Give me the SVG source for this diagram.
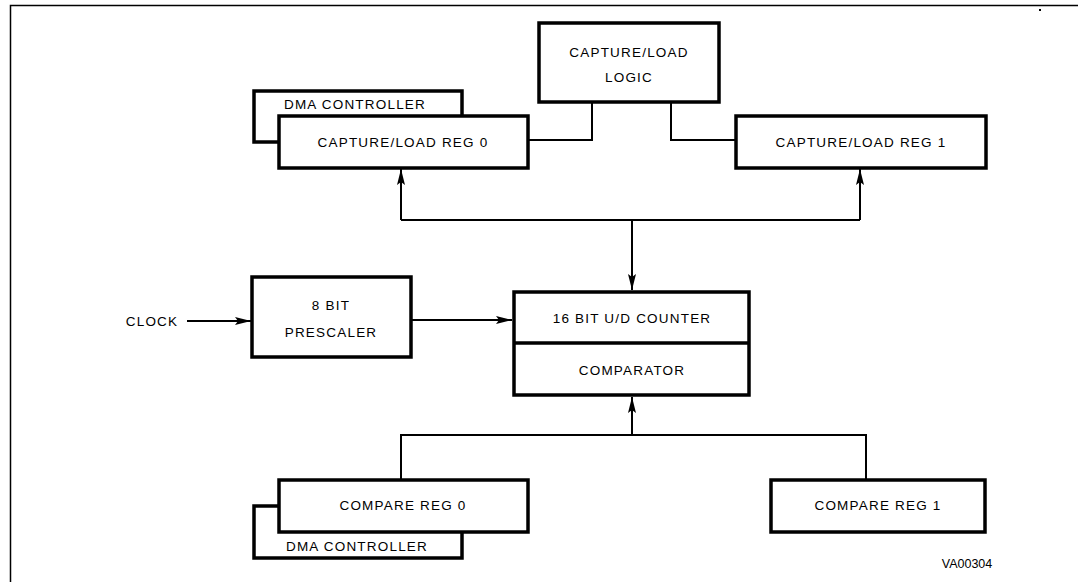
<svg xmlns="http://www.w3.org/2000/svg" width="1078" height="582" viewBox="0 0 1078 582">
<style>
.box{fill:#fff;stroke:#000;stroke-width:3.5}
.ln{fill:none;stroke:#000;stroke-width:2}
.frame{fill:none;stroke:#000;stroke-width:1.5}
text{font-family:"Liberation Sans",Arial,sans-serif;font-size:13.5px;letter-spacing:1.2px;fill:#000;text-anchor:middle;dominant-baseline:central}
.sm{font-size:12.5px}
</style>
<defs>
<marker id="ah" viewBox="0 0 16 8" refX="16" refY="4" markerWidth="16" markerHeight="8" markerUnits="userSpaceOnUse" orient="auto">
<path d="M0,0 L16,4 L0,8 L3,4 Z" fill="#000"/>
</marker>
</defs>
<rect width="1078" height="582" fill="#fff"/>
<path class="frame" d="M10.5,582 L10.5,5.5 L1078,5.5"/>
<rect x="1039" y="9" width="2" height="2" fill="#000"/>
<g id="connectors">
<path class="ln" d="M592,102 L592,140 L528,140"/>
<path class="ln" d="M671,102 L671,140 L737,140"/>
<path class="ln" d="M401,220 L860,220"/>
<path class="ln" d="M401,220 L401,169" marker-end="url(#ah)"/>
<path class="ln" d="M860,220 L860,169" marker-end="url(#ah)"/>
<path class="ln" d="M632,220 L632,290" marker-end="url(#ah)"/>
<path class="ln" d="M187,321 L251,321" marker-end="url(#ah)"/>
<path class="ln" d="M411,320 L512,320" marker-end="url(#ah)"/>
<path class="ln" d="M401,480 L401,435 L866,435 L866,480"/>
<path class="ln" d="M632,435 L632,397" marker-end="url(#ah)"/>
</g>
<g id="logic">
<rect class="box" x="539" y="23" width="180" height="79"/>
<text x="629" y="52">CAPTURE/LOAD</text>
<text x="629" y="77">LOGIC</text>
</g>
<g id="dma0">
<rect class="box" x="254" y="91" width="208" height="51"/>
<text x="355" y="104">DMA CONTROLLER</text>
</g>
<g id="reg0">
<rect class="box" x="279" y="116" width="249" height="52"/>
<text x="403" y="142">CAPTURE/LOAD REG 0</text>
</g>
<g id="reg1">
<rect class="box" x="736" y="116" width="250" height="52"/>
<text x="861" y="142">CAPTURE/LOAD REG 1</text>
</g>
<g id="prescaler">
<rect class="box" x="252" y="277" width="159" height="80"/>
<text x="331" y="305">8 BIT</text>
<text x="331" y="332">PRESCALER</text>
</g>
<g id="clock">
<text x="152" y="321">CLOCK</text>
</g>
<g id="counter">
<rect class="box" x="514" y="292" width="235" height="103"/>
<path class="box" d="M514,343 L749,343"/>
<text x="632" y="318">16 BIT U/D COUNTER</text>
<text x="632" y="370">COMPARATOR</text>
</g>
<g id="dma1">
<rect class="box" x="254" y="506" width="208" height="52"/>
<text x="357" y="546">DMA CONTROLLER</text>
</g>
<g id="cmp0">
<rect class="box" x="279" y="480" width="249" height="52"/>
<text x="403" y="505">COMPARE REG 0</text>
</g>
<g id="cmp1">
<rect class="box" x="771" y="480" width="214" height="52"/>
<text x="878" y="505">COMPARE REG 1</text>
</g>
<g id="label">
<text class="sm" x="967" y="564" style="letter-spacing:0">VA00304</text>
</g>
</svg>
